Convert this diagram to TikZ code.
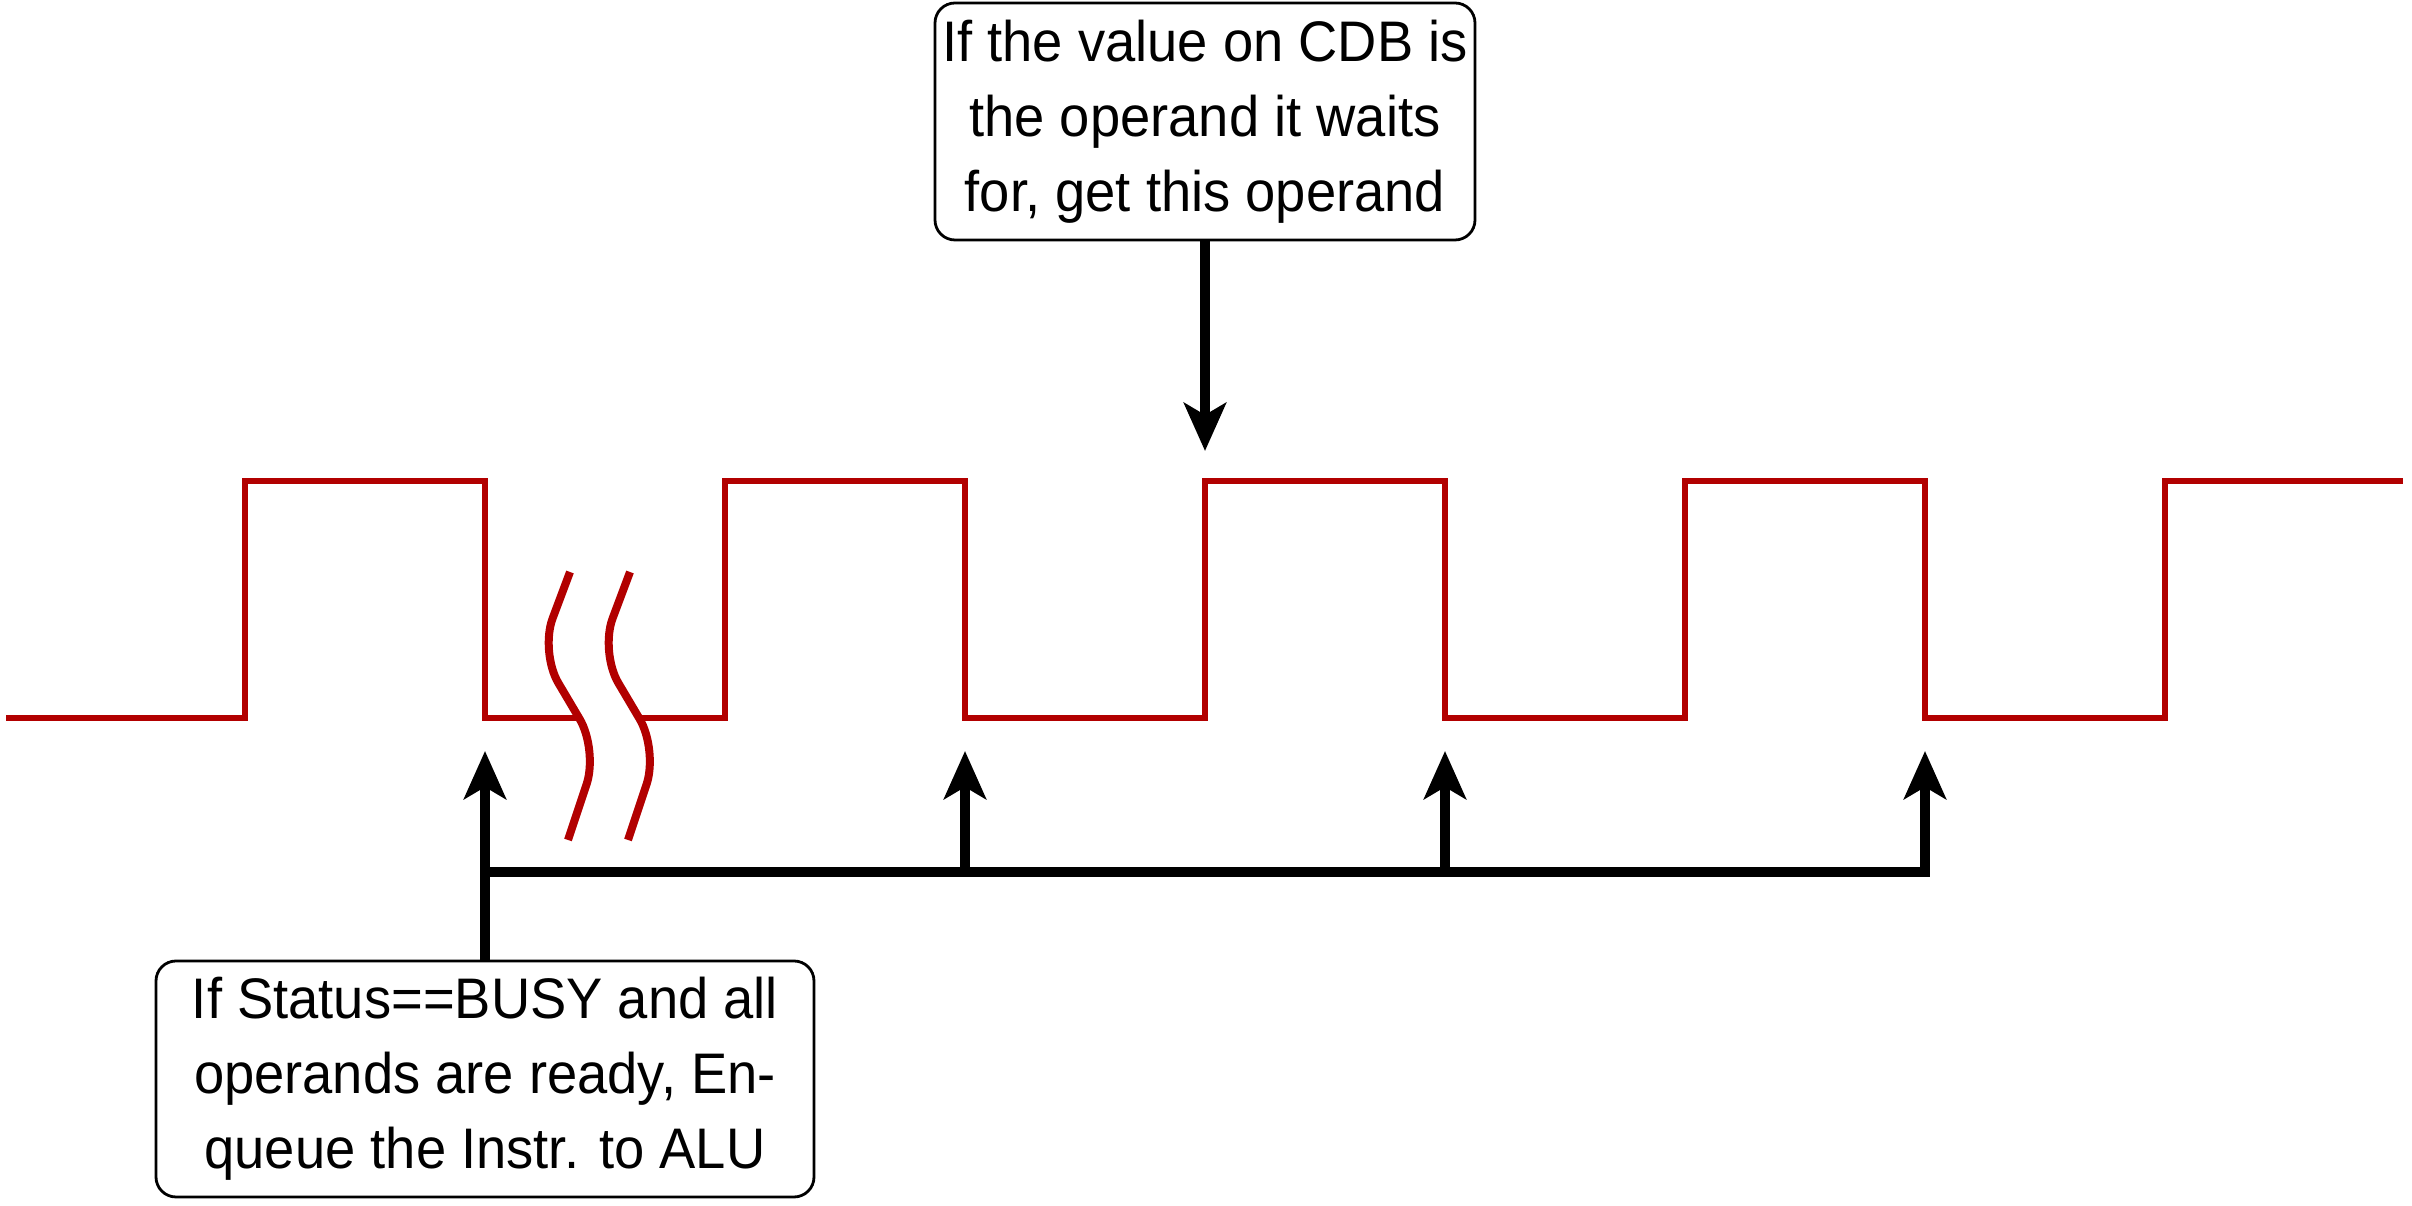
\documentclass[tikz,border=0pt]{standalone}
\usepackage{fontspec}
\setmainfont[FakeStretch=0.95]{Liberation Sans}
\usetikzlibrary{arrows.meta}
\definecolor{clockred}{HTML}{B20000}
\tikzset{
    notebox/.style={draw, rounded corners=5pt, line width=0.7pt, align=center,
        inner sep=0pt, font=\fontsize{14.3}{18.7}\selectfont},
    clockline/.style={clockred, line width=1.3pt},
    breakline/.style={clockred, line width=2pt, rounded corners=9pt},
    sigarrow/.style={-{Stealth[length=12pt,width=10.5pt,inset=3pt]}, line width=2.3pt},
}
\begin{document}
\begin{tikzpicture}[x=0.25pt, y=-0.25pt]
        \useasboundingbox (0,0) rectangle (2412,1206);
        % clock
        \draw [clockline] (6,718)--(245,718)--(245,481)--(485,481)--(485,718)--(578,718);
        \draw [clockline] (638,718)--(725,718)--(725,481)--(965,481)--(965,718)
            --(1205,718)--(1205,481)--(1445,481)--(1445,718)--(1685,718)--(1685,481)
            --(1925,481)--(1925,718)--(2165,718)--(2165,481)--(2403,481);
        % break mark
        \foreach \d in {0,60}
        {
            \draw [breakline] (570+\d,572)--(540+\d,652)--(598+\d,750)--(568+\d,840);
        }
        % notes
        \node [notebox, minimum width=135pt, minimum height=59.25pt] (cdbnote) at (1205,121.5)
            {If the value on CDB is\\the operand it waits\\for, get this operand};
        \node [notebox, minimum width=164.5pt, minimum height=59pt] (alunote) at (485,1079)
            {If Status==BUSY and all\\operands are ready, En-\\queue the Instr. to ALU};
        % arrows
        \coordinate (cdbtip) at (1205,451);
        \foreach \x [count=\i] in {485,965,1445,1925}
        {
            \coordinate (tip\i) at (\x,751);
        }
        \coordinate (bus) at (485,872);
        \draw [sigarrow] (cdbnote.south)--(cdbtip);
        \draw [sigarrow] (alunote.north)--(tip1);
        \draw [sigarrow] (bus)-|(tip4);
        \foreach \i in {2,3}
        {
            \draw [sigarrow] (tip\i |- bus)--(tip\i);
        }
\end{tikzpicture}
\end{document}
